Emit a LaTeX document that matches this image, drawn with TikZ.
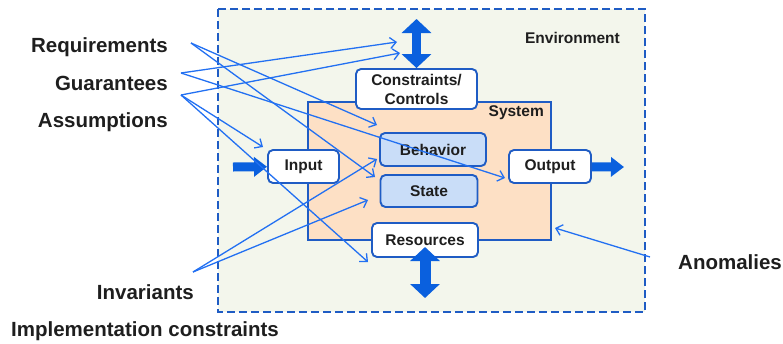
\documentclass[tikz,border=0pt]{standalone}
\usepackage{fontspec}
\setmainfont{Liberation Sans}
\usetikzlibrary{arrows.meta}
\definecolor{envfill}{HTML}{F3F6EC}
\definecolor{sysfill}{HTML}{FDE0C5}
\definecolor{innerfill}{HTML}{C9DDF8}
\definecolor{edgeblue}{HTML}{1F5CC4}
\definecolor{linkblue}{HTML}{2270F2}
\definecolor{fatblue}{HTML}{0A60DE}
\definecolor{ink}{HTML}{1E1E1E}
\begin{document}
\begin{tikzpicture}[x=1pt,y=-1pt,text=ink,
    box/.style={draw=edgeblue,line width=1.9pt,rounded corners=5pt,fill=white,
      inner sep=0pt,font=\fontsize{15.5}{19}\selectfont\bfseries},
    innerbox/.style={box,fill=innerfill},
    lbl/.style={inner sep=0pt,font=\fontsize{20.5}{24}\selectfont\bfseries},
    tag/.style={inner sep=0pt,font=\fontsize{15.5}{19}\selectfont\bfseries},
    link/.style={draw=linkblue,line width=1.3pt,-{Straight Barb[length=6pt,width=11pt]}},
    fat/.style={draw=fatblue,line width=9pt,-{Triangle[length=13pt,width=19pt]}},
    twoway/.style={draw=fatblue,line width=#1,
      {Triangle[length=14pt,width=29pt]}-{Triangle[length=14pt,width=29pt]}}]
  \useasboundingbox (0,0) rectangle (783,343);
  % environment and system
  \draw[edgeblue,fill=envfill,line width=1.9pt,dash pattern=on 8pt off 4pt]
    (218,9) rectangle (645,312);
  \draw[edgeblue,fill=sysfill,line width=1.9pt] (308,102) rectangle (551,240);
  \node[tag,anchor=east] (env) at (620,38) {Environment};
  \node[tag,anchor=east] (sys) at (544,113) {System};
  \draw
    (416.5,89) node[box,minimum width=121pt,minimum height=40pt,align=center] (ctrl) {Constraints/\\Controls}
    (303.5,166.5) node[box,minimum width=71pt,minimum height=33pt] (in) {Input}
    (550,166.5) node[box,minimum width=82pt,minimum height=33pt] (out) {Output}
    (433,149.5) node[innerbox,minimum width=106pt,minimum height=33pt] (beh) {Behavior}
    (429,191) node[innerbox,minimum width=97pt,minimum height=32pt] (state) {State}
    (425,240) node[box,minimum width=106pt,minimum height=34pt] (res) {Resources};
  % labels
  \node[lbl,anchor=east] (req) at (168,47) {Requirements};
  \node[lbl,anchor=east] (gua) at (168,83) {Guarantees};
  \node[lbl,anchor=east] (asm) at (168,122) {Assumptions};
  \node[lbl,anchor=east] (inv) at (194,292) {Invariants};
  \node[lbl,anchor=west] (impl) at (11,331) {Implementation constraints};
  \node[lbl,anchor=west] (anom) at (678,262) {Anomalies};
  % ends of the arrows
  \coordinate (in-src) at (233,167);
  \coordinate (out-dst) at (624,167);
  \coordinate (ctrl-top) at (416.5,19);
  \coordinate (res-top) at (425,247);
  \coordinate (res-bot) at (425,298);
  \coordinate (req-o) at (191,43);
  \coordinate (gua-o) at (181,73);
  \coordinate (asm-o) at (181,95);
  \coordinate (inv-o) at (193,272);
  \coordinate (anom-o) at (650,257);
  \coordinate (t1) at (397,42);
  \coordinate (t2) at (400,53);
  \coordinate (t3) at (377,125);
  \coordinate (t4) at (263,147);
  \coordinate (t5) at (375,177);
  \coordinate (t6) at (505,178);
  \coordinate (t7) at (377,159);
  \coordinate (t8) at (368,200);
  \coordinate (t9) at (368,262);
  \coordinate (t10) at (555,228);
  \begin{scope}
    \draw[fat] (in-src) to (in);
    \draw[fat] (out) to (out-dst);
    \draw[twoway=9pt] (ctrl) to (ctrl-top);
    \draw[twoway=11pt] (res-top) to (res-bot);
  \end{scope}
  \begin{scope}[link]
    \draw (req-o) to (t3);
    \draw (req-o) to (t5);
    \draw (gua-o) to (t1);
    \draw (gua-o) to (t6);
    \draw (asm-o) to (t2);
    \draw (asm-o) to (t4);
    \draw (asm-o) to (t9);
    \draw (inv-o) to (t7);
    \draw (inv-o) to (t8);
    \draw (anom-o) to (t10);
  \end{scope}
\end{tikzpicture}
\end{document}
